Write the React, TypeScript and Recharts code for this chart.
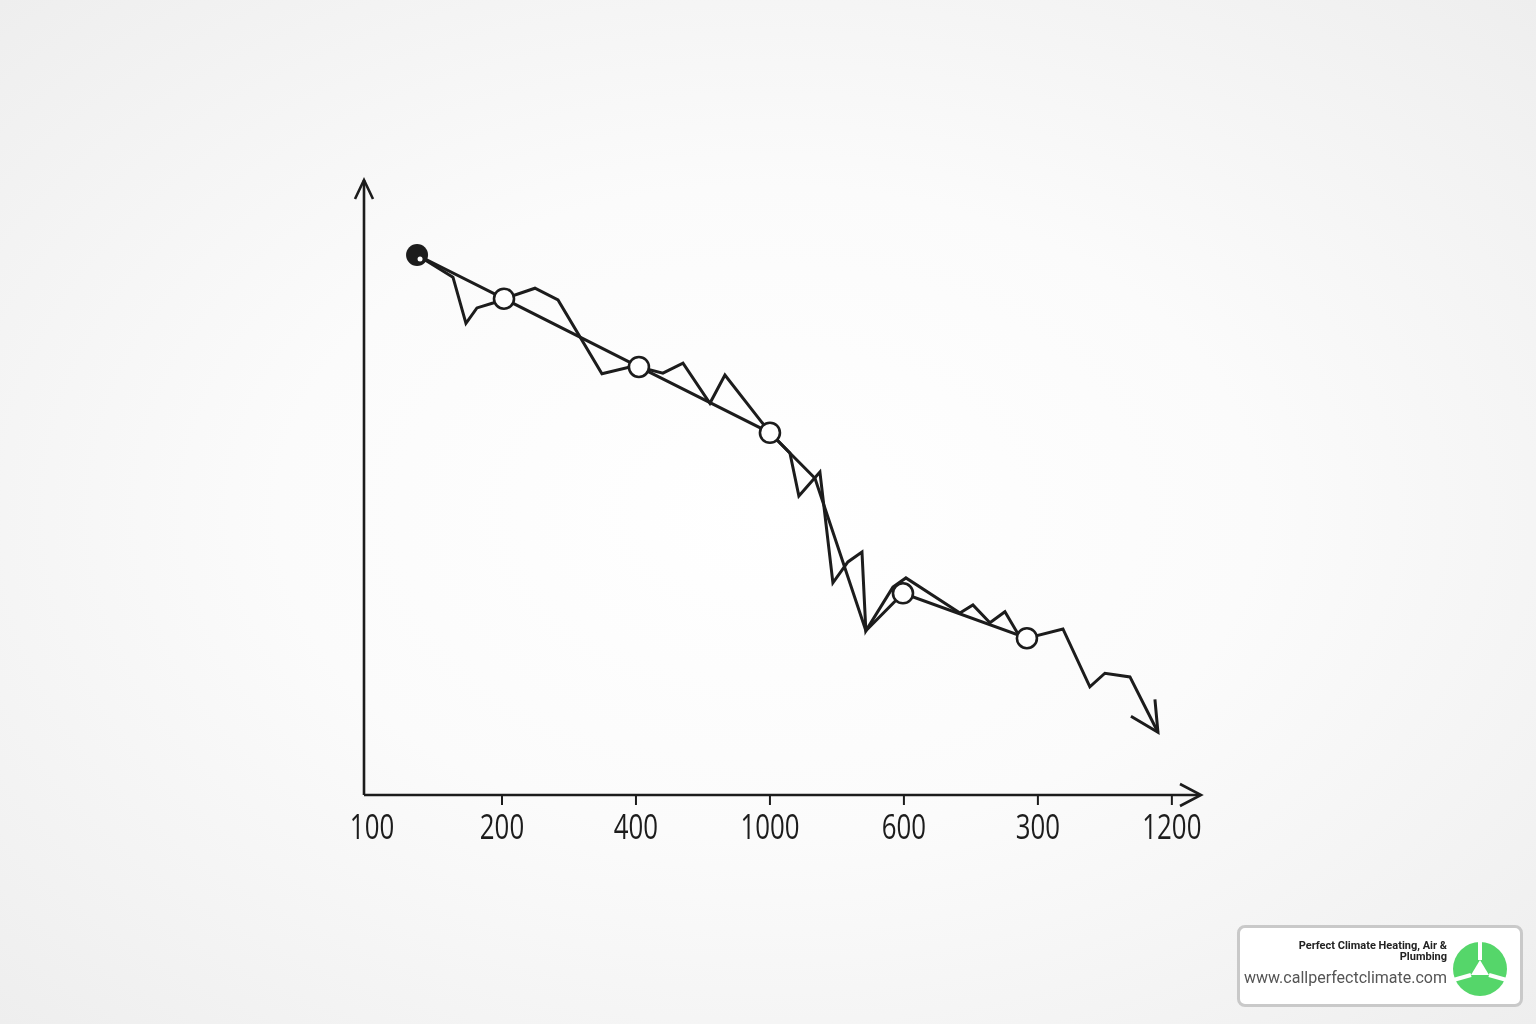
import { LineChart, Line, XAxis, YAxis, ReferenceDot, ReferenceLine } from 'recharts'

// x positions in tick units (0 = origin label, 1..6 = tick marks), y in 0..100
const X_TICKS = [0, 1, 2, 3, 4, 5, 6]
const X_LABELS = ['100', '200', '400', '1000', '600', '300', '1200']

const JAGGED_X = [
  0.366, 0.634, 0.731, 0.813, 0.933, 1.015, 1.246, 1.418, 1.746, 1.955, 2.022, 2.201,
  2.351, 2.552, 2.664, 3.0, 3.149, 3.216, 3.373, 3.47, 3.582, 3.687, 3.716, 3.918,
  4.015, 4.418, 4.515, 4.642, 4.754, 4.843, 4.918, 5.187, 5.388, 5.5, 5.687, 5.896,
]
const JAGGED_Y = [
  87.8, 84.2, 76.7, 79.2, 80.0, 80.7, 82.4, 80.5, 68.5, 69.6, 69.6, 68.6,
  70.2, 63.7, 68.3, 58.9, 55.6, 48.6, 52.5, 34.5, 37.9, 39.5, 26.7, 33.8,
  35.3, 29.6, 30.9, 28.0, 29.8, 26.5, 25.5, 27.0, 17.6, 19.8, 19.2, 10.2,
]

const TREND_X = [0.366, 1.015, 2.022, 3.0, 3.149, 3.336, 3.716, 3.993, 4.918]
const TREND_Y = [87.8, 80.7, 69.6, 58.9, 55.6, 51.5, 26.7, 32.8, 25.5]
const TREND_MARK = ['filled', 'open', 'open', 'open', '', '', '', 'open', 'open']

const jaggedData = JAGGED_X.map((u, i) => ({ u, v: JAGGED_Y[i] }))
const trendData = TREND_X.map((u, i) => ({ u, v: TREND_Y[i], mark: TREND_MARK[i] }))

const INK = '#1c1c1c'
const X_DOMAIN: [number, number] = [-0.03, 6.21]

const renderTrendDot = (p: any) => {
  const { cx, cy, index, payload } = p
  if (payload.mark === 'filled') {
    return (
      <g key={`t${index}`}>
        <circle cx={cx} cy={cy} r={11} fill={INK} />
        <circle cx={cx + 3} cy={cy + 4} r={2.5} fill="#fff" />
      </g>
    )
  }
  if (payload.mark === 'open') {
    return <circle key={`t${index}`} cx={cx} cy={cy} r={10} fill="#fff" stroke={INK} strokeWidth={2.6} />
  }
  return <g key={`t${index}`} />
}

const renderJaggedDot = (p: any) => {
  const { cx, cy, index } = p
  if (index !== jaggedData.length - 1) return <g key={`j${index}`} />
  return (
    <path
      key={`j${index}`}
      d={`M${cx - 27} ${cy - 16} L${cx} ${cy} L${cx - 3} ${cy - 33}`}
      fill="none"
      stroke={INK}
      strokeWidth={3}
      strokeLinejoin="miter"
    />
  )
}

const XTick = (p: any) => {
  const { x, y, payload, index } = p
  return (
    <g>
      {index > 0 && <line x1={x} y1={y} x2={x} y2={y + 10} stroke={INK} strokeWidth={2} />}
      <text
        transform={`translate(${x + (index === 0 ? 4 : 0)},${y + 44}) scale(0.76,1)`}
        textAnchor="middle"
        fill={INK}
        fontSize={34}
        fontFamily="'Open Sans', 'Noto Sans', sans-serif"
      >
        {X_LABELS[X_TICKS.indexOf(payload.value)]}
      </text>
    </g>
  )
}

const UpArrow = (p: any) => (
  <path d={`M${p.cx - 9} ${p.cy + 19} L${p.cx} ${p.cy} L${p.cx + 9} ${p.cy + 19}`} fill="none" stroke={INK} strokeWidth={2.6} />
)
const RightArrow = (p: any) => (
  <path d={`M${p.cx - 20} ${p.cy - 11} L${p.cx + 1} ${p.cy} L${p.cx - 20} ${p.cy + 11}`} fill="none" stroke={INK} strokeWidth={2.6} />
)

function Badge() {
  return (
    <div
      style={{
        position: 'absolute',
        left: 1237,
        top: 925,
        width: 280,
        height: 76,
        border: '3px solid #c9c9c9',
        borderRadius: 8,
        background: '#fff',
        fontFamily: 'Roboto, sans-serif',
      }}
    >
      <div
        style={{
          position: 'absolute',
          right: 73,
          top: 12,
          width: 170,
          textAlign: 'right',
          fontSize: 11,
          lineHeight: '11px',
          fontWeight: 700,
          color: '#222',
        }}
      >
        Perfect Climate Heating, Air &amp; Plumbing
      </div>
      <div style={{ position: 'absolute', right: 73, top: 40, fontSize: 16, color: '#555', whiteSpace: 'nowrap' }}>
        www.callperfectclimate.com
      </div>
      <svg style={{ position: 'absolute', left: 212, top: 13 }} width={56} height={56} viewBox="-28 -28 56 56">
        <circle r={27} fill="#55d66a" />
        <path d="M0 -9 L9 6 L-9 6 Z" fill="#fff" />
        <line x1={0} y1={-9} x2={0} y2={-30} stroke="#fff" strokeWidth={4} />
        <line x1={9} y1={6} x2={30} y2={12} stroke="#fff" strokeWidth={4} />
        <line x1={-9} y1={6} x2={-30} y2={12} stroke="#fff" strokeWidth={4} />
      </svg>
    </div>
  )
}

export default function App() {
  return (
    <div
      style={{
        position: 'fixed',
        left: 0,
        top: 0,
        width: 1536,
        height: 1024,
        background: 'radial-gradient(ellipse at 50% 50%, #ffffff 0%, #fbfbfb 45%, #eeeeee 100%)',
      }}
    >
      <LineChart width={1536} height={1024} margin={{ top: 180, right: 336, bottom: 189, left: 364 }}>
        <XAxis
          type="number"
          dataKey="u"
          domain={X_DOMAIN}
          ticks={X_TICKS}
          allowDataOverflow
          height={40}
          tickLine={false}
          tickSize={0}
          tickMargin={0}
          axisLine={{ stroke: INK, strokeWidth: 2.6 }}
          tick={<XTick />}
          interval={0}
        />
        <YAxis type="number" domain={[0, 100]} hide />
        <ReferenceLine x={X_DOMAIN[0]} stroke={INK} strokeWidth={2.6} ifOverflow="visible" />
        <ReferenceDot x={X_DOMAIN[0]} y={100} r={0} shape={<UpArrow />} ifOverflow="visible" />
        <ReferenceDot x={X_DOMAIN[1]} y={0} r={0} shape={<RightArrow />} ifOverflow="visible" />
        <Line
          data={jaggedData}
          dataKey="v"
          type="linear"
          stroke={INK}
          strokeWidth={3}
          strokeLinejoin="miter"
          dot={renderJaggedDot}
          activeDot={false}
          isAnimationActive={false}
        />
        <Line
          data={trendData}
          dataKey="v"
          type="linear"
          stroke={INK}
          strokeWidth={3}
          dot={renderTrendDot}
          activeDot={false}
          isAnimationActive={false}
        />
      </LineChart>
      <Badge />
    </div>
  )
}
